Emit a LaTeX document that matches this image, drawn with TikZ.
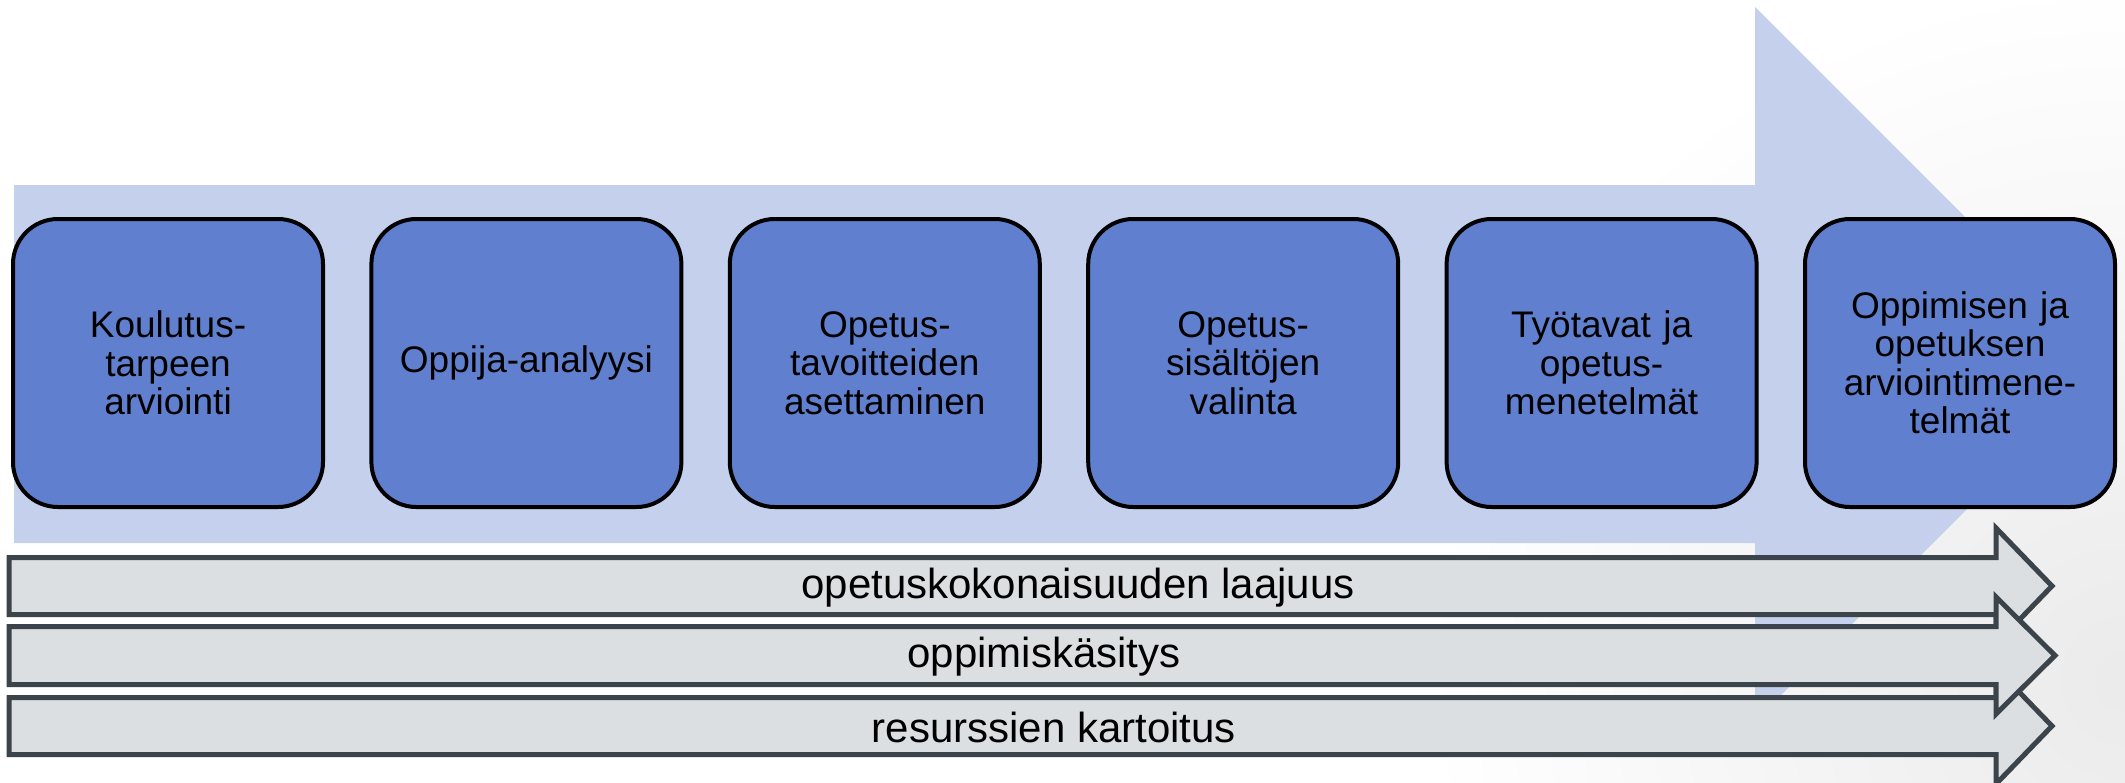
\documentclass[tikz,border=0pt]{standalone}
\usepackage{fontspec}
\setmainfont{Liberation Sans}
\definecolor{bigarrow}{RGB}{197,208,236}
\definecolor{boxblue}{RGB}{96,128,207}
\definecolor{bandfill}{RGB}{220,223,226}
\definecolor{bandline}{RGB}{60,68,75}
\begin{document}
\begin{tikzpicture}[x=1pt,y=-1pt,
  stepbox/.style={draw=black, line width=4pt, fill=boxblue, rounded corners=45pt,
    minimum width=310pt, minimum height=288pt, align=center, inner sep=0pt,
    text width=300pt, font=\fontsize{37}{38.5}\selectfont},
  band/.style={draw=bandline, line width=5pt, fill=bandfill, line join=miter},
  bandtext/.style={inner sep=0pt, font=\fontsize{42}{44}\selectfont}
]
\useasboundingbox (0,0) rectangle (2125,782);
\fill[white] (0,0) rectangle (2125,782);
\begin{scope}
  \clip (0,0) rectangle (2125,782);
  \shade[inner color=gray!16, outer color=white] (2125,680) circle (700);
\end{scope}

% big process arrow
\fill[bigarrow] (14,185) -- (1755,185) -- (1755,7) -- (2112,364) -- (1755,721)
  -- (1755,543) -- (14,543) -- cycle;

% step boxes
\node[stepbox] (b1) at (168,363)    {Koulutus-\\tarpeen\\arviointi};
\node[stepbox] (b2) at (526.4,363)  {Oppija-analyysi};
\node[stepbox] (b3) at (884.8,363)  {Opetus-\\tavoitteiden\\asettaminen};
\node[stepbox] (b4) at (1243.2,363) {Opetus-\\sisältöjen\\valinta};
\node[stepbox] (b5) at (1601.6,363) {Työtavat ja\\opetus-\\menetelmät};
\node[stepbox] (b6) at (1960,363)   {Oppimisen ja\\opetuksen\\arviointimene-\\telmät};

% bottom band arrows (order: 1, 3, 2)
\draw[band] (9,557.5) -- (1996,557.5) -- (1996,528) -- (2052,586) -- (1996,644)
  -- (1996,614.5) -- (9,614.5) -- cycle;
\draw[band] (9,697.5) -- (1996,697.5) -- (1996,668) -- (2052,726) -- (1996,784)
  -- (1996,754.5) -- (9,754.5) -- cycle;
\draw[band] (9,626.5) -- (1996,626.5) -- (1996,597) -- (2055,655.5) -- (1996,714)
  -- (1996,684.5) -- (9,684.5) -- cycle;

\node[bandtext] (t1) at (1078,588) {opetuskokonaisuuden laajuus};
\node[bandtext] (t2) at (1044,657) {oppimiskäsitys};
\node[bandtext] (t3) at (1054,727) {resurssien kartoitus};
\end{tikzpicture}
\end{document}
